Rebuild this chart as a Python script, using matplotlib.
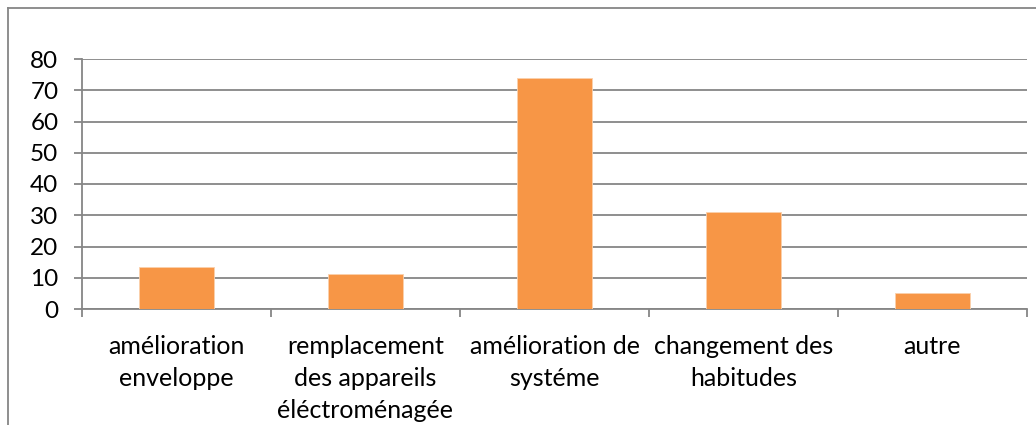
import matplotlib
matplotlib.use("Agg")
import matplotlib.pyplot as plt
from matplotlib.lines import Line2D
import numpy as np

categories = ["amélioration\nenveloppe",
              "remplacement\ndes appareils\néléctroménagée",
              "amélioration de\nsystéme",
              "changement des\nhabitudes",
              "autre"]
values = [13.5, 11.3, 73.8, 31.1, 5.0]
yticks = [0, 10, 20, 30, 40, 50, 60, 70, 80]

plt.rcParams['font.family'] = ['Lato', 'DejaVu Sans']

W, H = 1036, 425
fig = plt.figure(figsize=(W / 100, H / 100), dpi=100)
ax = fig.add_axes([82 / W, (H - 309) / H, 945 / W, 250 / H])

grid_c = "#868686"
x = np.arange(len(categories))
ax.bar(x, values, width=0.4, color="#F79646", edgecolor="#FAD0AC", linewidth=0.6, zorder=3)

ax.set_xlim(-0.5, len(categories) - 0.5)
ax.set_ylim(0, 80)
ax.set_yticks(yticks)
ax.set_yticklabels([str(v) for v in yticks])
ax.yaxis.grid(True, color=grid_c, linewidth=1.3, zorder=0)
ax.set_axisbelow(True)

for s in ["top", "right"]:
    ax.spines[s].set_visible(False)
for s in ["left", "bottom"]:
    ax.spines[s].set_color(grid_c)
    ax.spines[s].set_linewidth(1.3)

fs = 18
ax.tick_params(axis="y", length=6, width=1.3, color=grid_c, pad=11,
               labelsize=17.5, labelcolor="black")
ax.set_xticks(x)
ax.set_xticklabels(categories, fontsize=fs, linespacing=1.48)
ax.tick_params(axis="x", which="major", length=0, pad=18.5)
ax.set_xticks(np.arange(-0.5, len(categories)), minor=True)
ax.tick_params(axis="x", which="minor", length=6, width=1.3, color=grid_c)

# outer chart frame (partly cut by the image edge)
fig.add_artist(Line2D([8 / W, 8 / W], [0, 1 - 8 / H], transform=fig.transFigure,
                      color=grid_c, linewidth=1.3))
fig.add_artist(Line2D([8 / W, 1], [1 - 8 / H, 1 - 8 / H], transform=fig.transFigure,
                      color=grid_c, linewidth=1.3))

fig.savefig("out.png", dpi=100)
